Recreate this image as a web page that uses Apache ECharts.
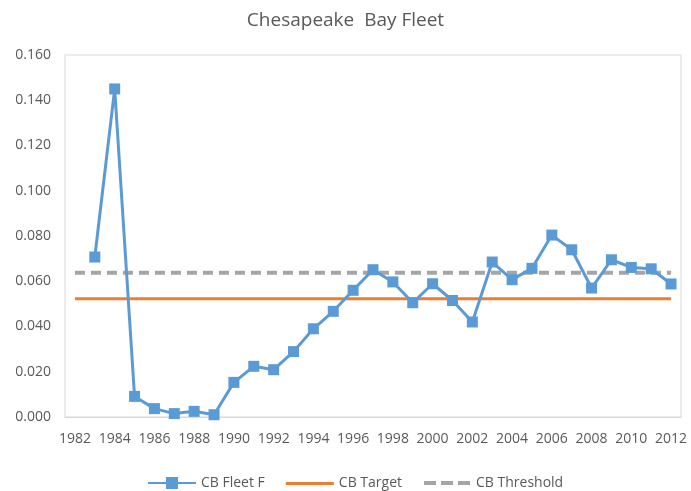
<!DOCTYPE html>
<html><head><meta charset="utf-8">
<script src="https://cdn.jsdelivr.net/npm/echarts@6/dist/echarts.min.js"></script>
<style>html,body{margin:0;padding:0;background:#fff}#c{width:691px;height:491px}</style>
</head><body><div id="c"></div>
<script>
const years = ['1982','1983','1984','1985','1986','1987','1988','1989','1990','1991','1992','1993','1994','1995','1996','1997','1998','1999','2000','2001','2002','2003','2004','2005','2006','2007','2008','2009','2010','2011','2012'];
const fleetF = [null,0.0707,0.145,0.0091,0.0037,0.0015,0.0025,0.0010,0.0153,0.0224,0.0209,0.0289,0.0390,0.0467,0.0560,0.0651,0.0597,0.0505,0.0589,0.0515,0.0420,0.0685,0.0607,0.0657,0.0804,0.0739,0.0570,0.0695,0.0661,0.0655,0.0588];
const targetVal = 0.0523;
const thresholdVal = 0.0638;
const target = years.map(() => targetVal);
const threshold = years.map(() => thresholdVal);
const yTicks = {min: 0, max: 0.16, interval: 0.02};

const chart = echarts.init(document.getElementById('c'), null, {renderer: 'canvas'});
const font = 'Open Sans';
const dot = ' M0,0L0.05,0L0,0.05Z M48,12L47.95,12L48,11.95Z';
chart.setOption({
  animation: false,
  title: {text: 'Chesapeake  Bay Fleet', left: 'center', top: 6,
    textStyle: {fontFamily: font, fontSize: 19, fontWeight: 'normal', color: '#595959'}},
  grid: {left: 65, right: 10, top: 55, bottom: 74, show: true, borderColor: '#d9d9d9', borderWidth: 1, containLabel: false},
  legend: {left: 143, top: 471, itemGap: 21, itemWidth: 48, itemHeight: 12,
    textStyle: {fontFamily: font, fontSize: 14, color: '#595959'},
    data: [
      {name: 'CB Fleet F', icon: 'path://M0,5L18,5L18,0L30,0L30,5L48,5L48,7L30,7L30,12L18,12L18,7L0,7Z'},
      {name: 'CB Target', icon: 'path://M0,5L48,5L48,8L0,8Z' + dot},
      {name: 'CB Threshold', icon: 'path://M1,4L13,4L13,8L1,8Z M18,4L30,4L30,8L18,8Z M35,4L47,4L47,8L35,8Z' + dot}
    ]},
  xAxis: {type: 'category', data: years, boundaryGap: true,
    axisLine: {lineStyle: {color: '#d9d9d9'}}, axisTick: {show: false},
    axisLabel: {interval: 1, color: '#595959', fontFamily: font, fontSize: 14, margin: 15},
    splitLine: {show: false}},
  yAxis: {type: 'value', min: yTicks.min, max: yTicks.max, interval: yTicks.interval,
    axisLine: {show: false}, axisTick: {show: false}, splitLine: {show: false},
    axisLabel: {color: '#595959', fontFamily: font, fontSize: 14, margin: 14,
      formatter: v => v.toFixed(3)}},
  series: [
    {name: 'CB Fleet F', type: 'line', data: fleetF, symbol: 'rect', symbolSize: 11,
      lineStyle: {color: '#5b9bd5', width: 3}, itemStyle: {color: '#5b9bd5'}, connectNulls: false, z: 3},
    {name: 'CB Target', type: 'line', data: target, symbol: 'none',
      lineStyle: {color: '#ed7d31', width: 3}, itemStyle: {color: '#ed7d31'}, z: 2},
    {name: 'CB Threshold', type: 'line', data: threshold, symbol: 'none',
      lineStyle: {color: '#a5a5a5', width: 4, type: [10, 6]}, itemStyle: {color: '#a5a5a5'}, z: 1}
  ]
});
</script></body></html>
